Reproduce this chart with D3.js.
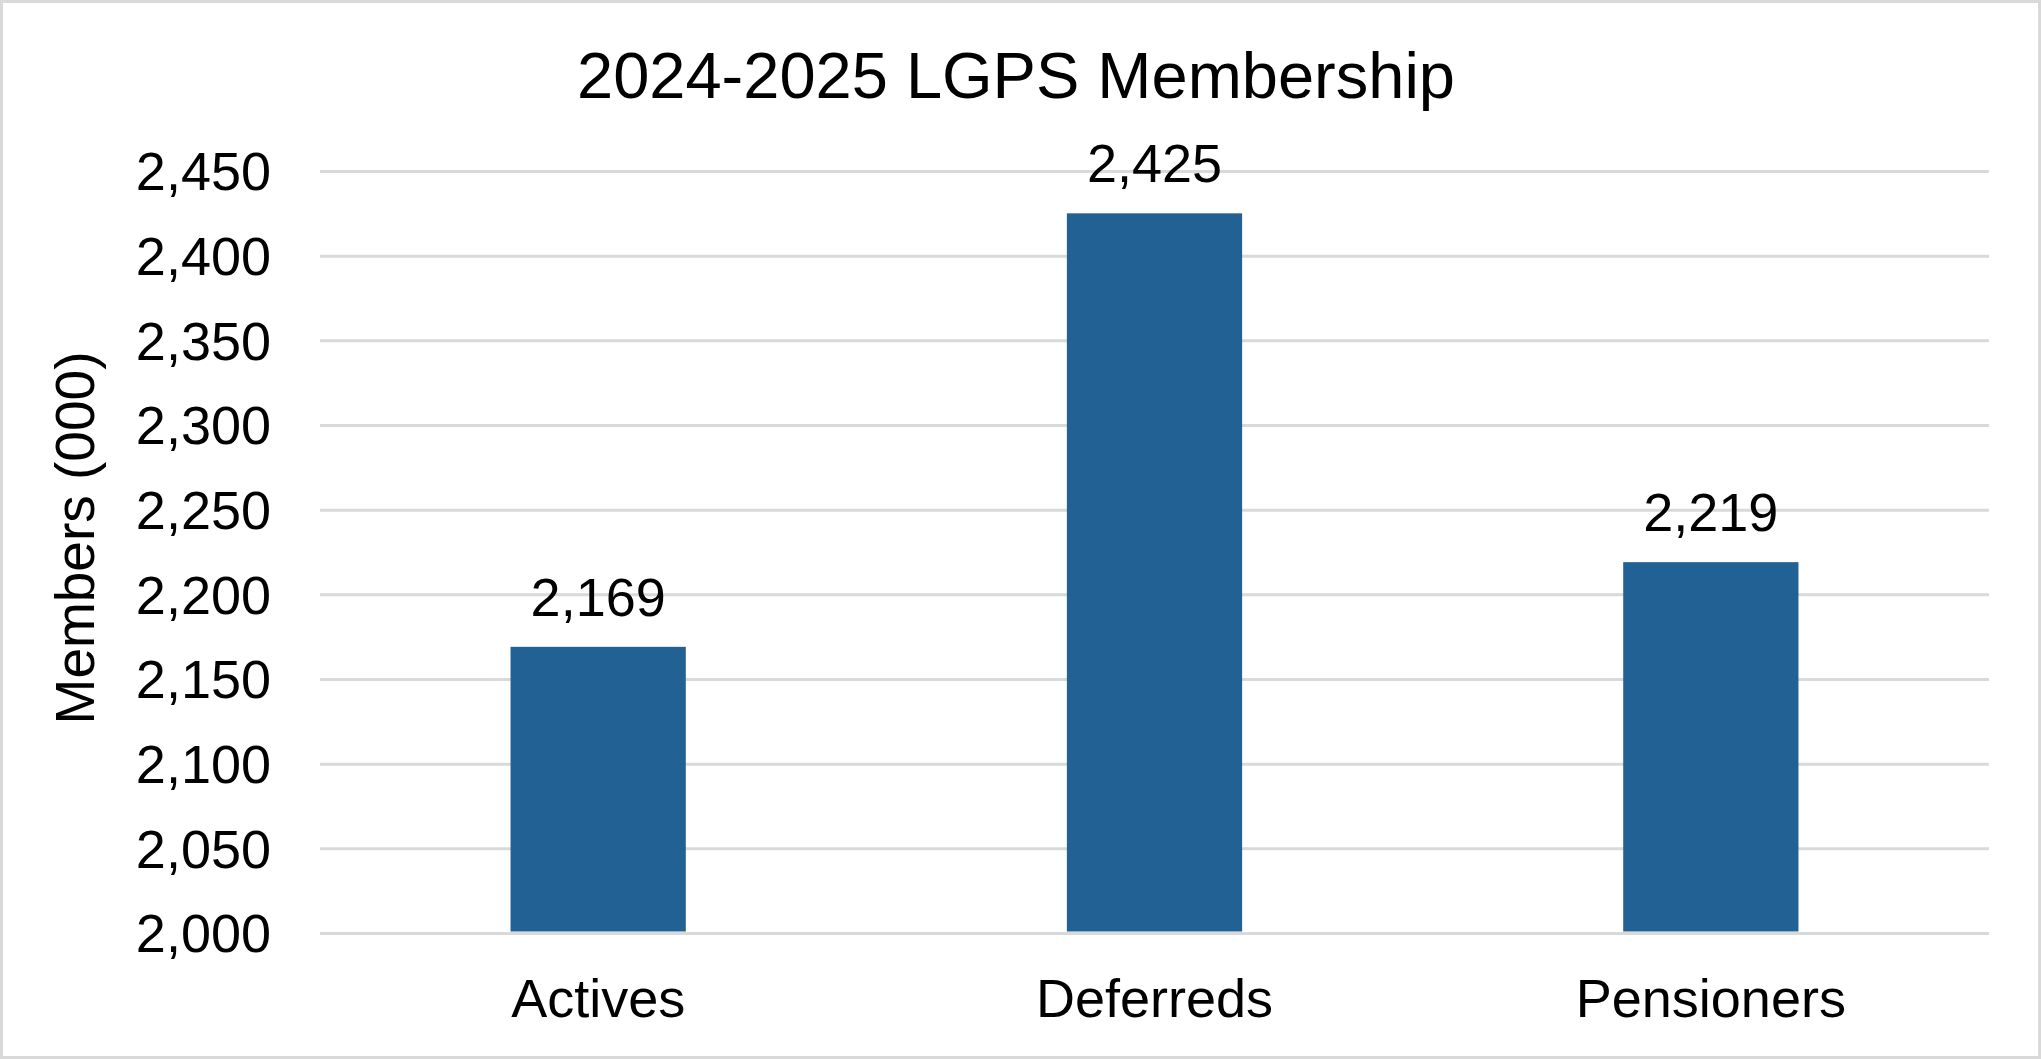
<!DOCTYPE html>
<html>
<head>
<meta charset="utf-8">
<script src="https://cdn.jsdelivr.net/npm/d3@7"></script>
<style>
  body { margin: 0; background: #fff; }
  text { font-family: "Liberation Sans", Arial, sans-serif; fill: #000; }
</style>
</head>
<body>
<script>
// Datos del gráfico
const categorias = ["Actives", "Deferreds", "Pensioners"];
const valores = [2169, 2425, 2219];
const ticksY = [2000, 2050, 2100, 2150, 2200, 2250, 2300, 2350, 2400, 2450];

const ancho = 2041, alto = 1059;
const margen = { top: 171, right: 52, bottom: 126, left: 320 };

const svg = d3.select("body")
  .append("svg")
  .attr("width", ancho)
  .attr("height", alto);

// borde exterior
svg.append("rect")
  .attr("x", 1.5).attr("y", 1.5)
  .attr("width", ancho - 3).attr("height", alto - 3)
  .attr("fill", "#fff")
  .attr("stroke", "#d9d9d9")
  .attr("stroke-width", 3);

const x = d3.scaleBand()
  .domain(categorias)
  .range([margen.left, ancho - margen.right])
  .paddingInner(0.685)
  .paddingOuter(0.3425);

const y = d3.scaleLinear()
  .domain([2000, 2450])
  .range([alto - margen.bottom, margen.top]);

// líneas de grilla
const grilla = svg.append("g")
  .attr("transform", `translate(${margen.left},0)`)
  .call(d3.axisLeft(y).tickValues(ticksY).tickSize(-(ancho - margen.right - margen.left)).tickFormat(""));
grilla.select(".domain").remove();
grilla.selectAll("line").attr("stroke", "#d9d9d9").attr("stroke-width", 3);

// eje Y (etiquetas)
const ejeY = svg.append("g")
  .attr("transform", `translate(271,0)`)
  .call(d3.axisLeft(y).tickValues(ticksY).tickSize(0).tickPadding(0).tickFormat(d3.format(",")));
ejeY.select(".domain").remove();
ejeY.selectAll("text")
  .style("font-family", "'Liberation Sans', Arial, sans-serif")
  .attr("font-size", 54)
  .attr("dy", "0.35em");

// barras
svg.selectAll("rect.barra")
  .data(categorias)
  .join("rect")
  .attr("class", "barra")
  .attr("x", d => x(d))
  .attr("width", x.bandwidth())
  .attr("y", (d, i) => y(valores[i]))
  .attr("height", (d, i) => y(2000) - y(valores[i]) - 1.5)
  .attr("fill", "#226193");

// etiquetas de valor
svg.selectAll("text.valor")
  .data(categorias)
  .join("text")
  .attr("class", "valor")
  .attr("x", d => x(d) + x.bandwidth() / 2)
  .attr("y", (d, i) => y(valores[i]) - 31)
  .attr("text-anchor", "middle")
  .attr("font-size", 54)
  .text((d, i) => d3.format(",")(valores[i]));

// eje X (categorías)
const ejeX = svg.append("g")
  .attr("transform", `translate(0,${alto - margen.bottom})`)
  .call(d3.axisBottom(x).tickSize(0).tickPadding(0));
ejeX.select(".domain").remove();
ejeX.selectAll("text")
  .style("font-family", "'Liberation Sans', Arial, sans-serif")
  .attr("font-size", 54)
  .attr("dy", null)
  .attr("y", 84);

// título
svg.append("text")
  .attr("x", 1016)
  .attr("y", 98)
  .attr("text-anchor", "middle")
  .attr("font-size", 65)
  .text("2024-2025 LGPS Membership");

// título eje Y
svg.append("text")
  .attr("transform", "translate(94,538) rotate(-90)")
  .attr("text-anchor", "middle")
  .attr("font-size", 55)
  .text("Members (000)");
</script>
</body>
</html>
